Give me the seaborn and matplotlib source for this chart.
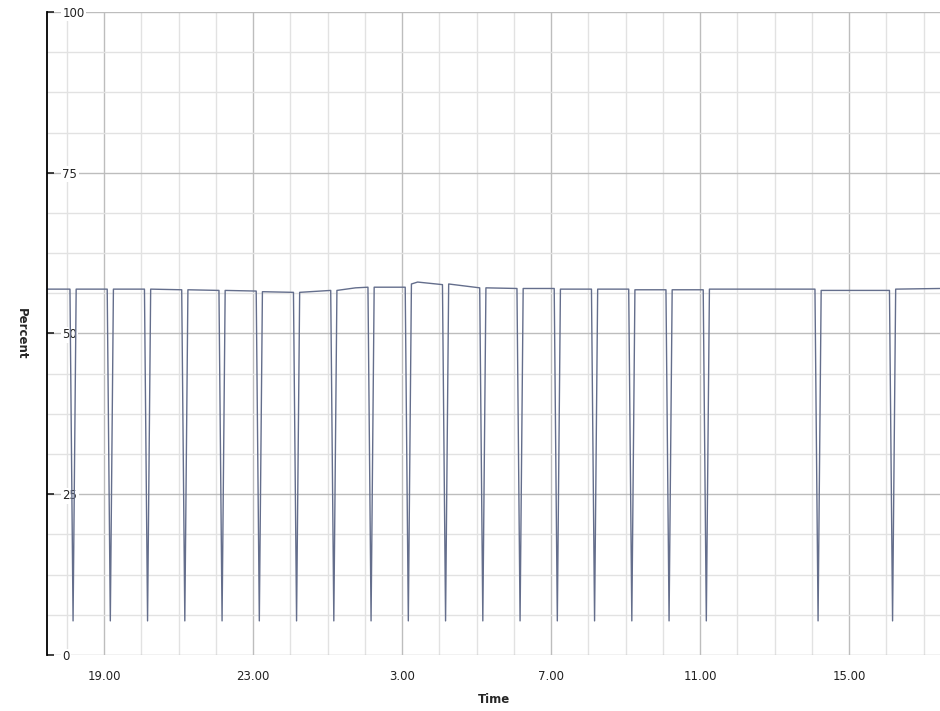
import pandas as pd
import seaborn as sns
import matplotlib.pyplot as plt
from matplotlib.ticker import MultipleLocator, FuncFormatter

# readings (clock time, percent); the dips come every hour at :10
times = ["17:28", "18:05", "18:10", "18:15", "19:05", "19:10", "19:15", "20:05", "20:10", "20:15",
         "21:05", "21:10", "21:15", "22:05", "22:10", "22:15", "23:05", "23:10", "23:15",
         "0:05", "0:10", "0:15", "1:05", "1:10", "1:15", "1:45", "2:05", "2:10", "2:15",
         "3:05", "3:10", "3:15", "3:25", "4:05", "4:10", "4:15", "5:05", "5:10", "5:15",
         "6:05", "6:10", "6:15", "7:05", "7:10", "7:15", "8:05", "8:10", "8:15",
         "9:05", "9:10", "9:15", "10:05", "10:10", "10:15", "11:05", "11:10", "11:15",
         "14:05", "14:10", "14:15", "16:05", "16:10", "16:15", "17:26"]
percent = [56.9, 56.9, 5.3, 56.9, 56.9, 5.3, 56.9, 56.9, 5.3, 56.9,
           56.8, 5.3, 56.8, 56.7, 5.3, 56.7, 56.6, 5.3, 56.5,
           56.4, 5.3, 56.4, 56.7, 5.3, 56.7, 57.1, 57.2, 5.3, 57.2,
           57.2, 5.3, 57.7, 58.0, 57.6, 5.3, 57.7, 57.1, 5.3, 57.1,
           57.0, 5.3, 57.0, 57.0, 5.3, 56.9, 56.9, 5.3, 56.9,
           56.9, 5.3, 56.8, 56.8, 5.3, 56.8, 56.8, 5.3, 56.9,
           56.9, 5.3, 56.7, 56.7, 5.3, 56.9, 57.0]

# clock time -> running hours (day rolls over after midnight)
hours = []
day = 0
prev = None
for t in times:
    h, m = t.split(":")
    v = int(h) + int(m) / 60
    if prev is not None and v < prev:
        day += 24
    prev = v
    hours.append(v + day)

df = pd.DataFrame({"Time": hours, "Percent": percent})

sns.set_style("white")
fig = plt.figure(figsize=(9.4, 7.11), dpi=100)
ax = fig.add_axes([0.05, 0.0788, 0.95, 0.9043])

sns.lineplot(data=df, x="Time", y="Percent", color="#646e8c", linewidth=1.0, ax=ax)

ax.set_xlim(17.467, 41.44)
ax.set_ylim(0, 100)

ax.xaxis.set_major_locator(MultipleLocator(4, offset=3))
ax.xaxis.set_minor_locator(MultipleLocator(1))
ax.xaxis.set_major_formatter(FuncFormatter(lambda v, p: f"{int(round(v)) % 24}.00"))
ax.yaxis.set_major_locator(MultipleLocator(25))
ax.yaxis.set_minor_locator(MultipleLocator(6.25))

ax.grid(which="major", color="#bdbdbd", linewidth=1.0)
ax.grid(which="minor", color="#e2e2e2", linewidth=1.0)
ax.set_axisbelow(True)

for s in ["top", "right", "bottom"]:
    ax.spines[s].set_visible(False)
ax.spines["left"].set_color("black")
ax.spines["left"].set_linewidth(1.3)

ax.tick_params(axis="x", which="major", direction="out", length=5, width=1.2,
               color="#222222", labelsize=8.5, pad=6, labelcolor="#222222")
ax.tick_params(axis="x", which="minor", length=0)
ax.tick_params(axis="y", which="major", direction="in", length=5, width=1.2,
               color="#222222", labelsize=8.5, pad=-11, labelcolor="#222222", left=True)
ax.tick_params(axis="y", which="minor", length=0)
for lab in ax.get_yticklabels():
    lab.set_horizontalalignment("left")
    lab.set_bbox(dict(facecolor="white", edgecolor="none", pad=1.0))

ax.set_xlabel("Time", fontsize=8.5, fontweight="bold", labelpad=7)
ax.set_ylabel("Percent", fontsize=8.5, fontweight="bold", rotation=270)
ax.yaxis.set_label_coords(-0.036, 0.5)

fig.savefig("out.png", dpi=100)
